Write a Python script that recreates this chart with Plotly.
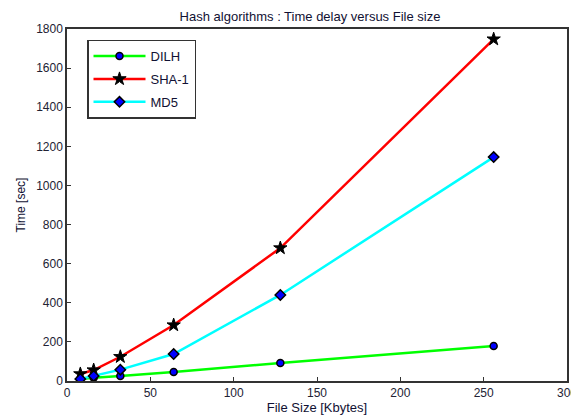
import plotly.graph_objects as go

file_size = [8, 16, 32, 64, 128, 256]
dilh = [10, 17, 26, 46, 92, 179]
sha1 = [36, 56, 124, 286, 680, 1748]
md5 = [10, 26, 58, 138, 440, 1145]

x_ticks = [0, 50, 100, 150, 200, 250, 300]
y_ticks = [0, 200, 400, 600, 800, 1000, 1200, 1400, 1600, 1800]

fig = go.Figure()
fig.add_trace(go.Scatter(x=file_size, y=dilh, name="DILH", mode="lines+markers",
                         legendgroup="g1",
                         line=dict(color="#00ff00", width=2.5),
                         marker=dict(symbol="circle", size=7, color="#0000ff",
                                     line=dict(color="black", width=1.5))))
fig.add_trace(go.Scatter(x=file_size, y=sha1, name="SHA-1", mode="lines+markers",
                         legendgroup="g2",
                         line=dict(color="#ff0000", width=2.5),
                         marker=dict(symbol="star", size=10, color="black",
                                     line=dict(color="black", width=1))))
fig.add_trace(go.Scatter(x=file_size, y=md5, name="MD5", mode="lines+markers",
                         legendgroup="g3",
                         line=dict(color="#00ffff", width=2.5),
                         marker=dict(symbol="diamond", size=8, color="#0000ff",
                                     line=dict(color="black", width=1.5))))

font_main = "Liberation Sans, Arial"
axis_common = dict(showgrid=False, zeroline=False, showline=True, linecolor="#333333",
                   linewidth=1.5, mirror=True, ticks="inside", ticklen=4, automargin=False,
                   ticklabeloverflow="allow",
                   tickcolor="#333333", tickfont=dict(family=font_main, size=12, color="#222233"))

fig.update_layout(
    width=571, height=411,
    margin=dict(l=59, r=12, t=21, b=38, autoexpand=False),
    paper_bgcolor="white", plot_bgcolor="white",
    title=dict(text="Hash algorithms : Time delay versus File size", x=0.486, xanchor="center",
               y=0.979, yanchor="middle", xref="paper", automargin=False,
               font=dict(family=font_main, size=13, color="#111133")),
    xaxis=dict(range=[0, 300], tickvals=x_ticks,
               title=dict(text="File Size [Kbytes]", standoff=2,
                          font=dict(family=font_main, size=13, color="#111133")),
               **axis_common),
    yaxis=dict(range=[0, 1800], tickvals=y_ticks,
               title=dict(text="Time [sec]", standoff=8,
                          font=dict(family=font_main, size=12, color="#111133")),
               **axis_common),
    legend=dict(x=0.04, y=0.97, xanchor="left", yanchor="top",
                bgcolor="white", bordercolor="#333333", borderwidth=1.5,
                font=dict(family=font_main, size=13, color="#111133"),
                itemwidth=52, tracegroupgap=3),
    showlegend=True,
)

fig.write_html("out.html")
